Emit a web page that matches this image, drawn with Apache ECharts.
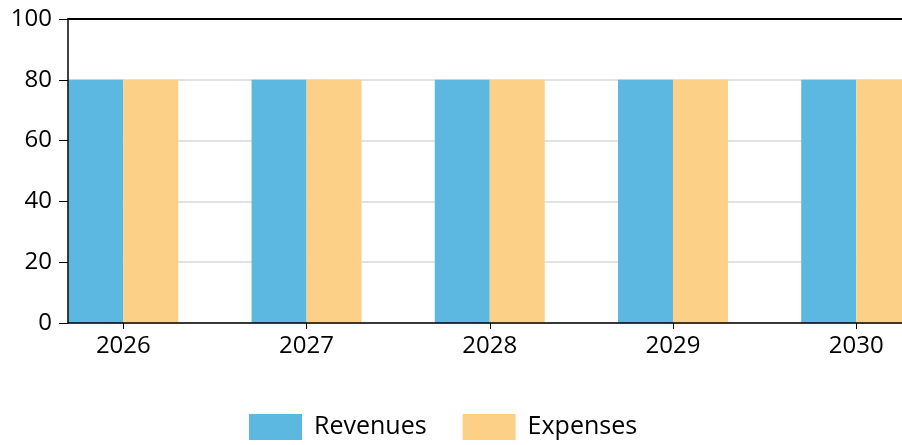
<!DOCTYPE html>
<html>
<head>
<meta charset="utf-8">
<script src="https://cdn.jsdelivr.net/npm/echarts@6/dist/echarts.min.js"></script>
<style>
html,body{margin:0;padding:0;background:#fff;}
#chart{width:902px;height:445px;}
</style>
</head>
<body>
<div id="chart"></div>
<script>
var years = [2026, 2027, 2028, 2029, 2030];
var revenues = [80, 80, 80, 80, 80];
var expenses = [80, 80, 80, 80, 80];
var yTicks = [0, 20, 40, 60, 80, 100];

var font = '"Open Sans", "Noto Sans", sans-serif';
var xMin = 2025.698, xMax = 2030.25;//first bar touches the y axis, last one runs off the page
var yMin = yTicks[0], yMax = yTicks[yTicks.length - 1];

function pairs(vals){
	var out = [];
	for (var i = 0; i < years.length; i++) out.push([years[i], vals[i]]);
	return out;
}

var myChart = echarts.init(document.getElementById('chart'));
var option = {
	animation: false,
	backgroundColor: '#fff',
	grid: { left: 68, right: 0, top: 19, bottom: 122 },
	legend: {
		left: 249, top: 414, padding: 0,
		itemWidth: 53, itemHeight: 26, itemGap: 36,
		icon: 'rect',
		textStyle: { fontFamily: font, fontSize: 25, color: '#000', padding: [0, 0, 0, 7] },
		data: ['Revenues', 'Expenses']
	},
	xAxis: [{
		type: 'value', min: xMin, max: xMax, z: 5,
		splitLine: { show: false },
		axisLine: { show: true, lineStyle: { color: '#000', width: 1.5 } },
		axisTick: { show: true, length: 6, customValues: years, lineStyle: { color: '#000' } },
		axisLabel: {
			customValues: years, margin: 11,
			fontFamily: font, fontSize: 24, color: '#000',
			formatter: function (v) { return String(v); }
		}
	}, {
		type: 'value', min: xMin, max: xMax, position: 'top', z: 5,
		splitLine: { show: false },
		axisLine: { show: true, onZero: false, lineStyle: { color: '#000', width: 2 } },
		axisTick: { show: false },
		axisLabel: { show: false }
	}],
	yAxis: [{
		//gridlines only, kept behind the bars
		type: 'value', min: yMin, max: yMax, interval: 20,
		axisLine: { show: false },
		axisTick: { show: false },
		axisLabel: { show: false },
		splitLine: { show: true, lineStyle: { color: '#d9d9d9', width: 1.5 } }
	}, {
		type: 'value', min: yMin, max: yMax, interval: 20, position: 'left', offset: 0, z: 5,
		axisLine: { show: true, onZero: false, lineStyle: { color: '#000', width: 1.5 } },
		axisTick: { show: true, length: 9, lineStyle: { color: '#000' } },
		axisLabel: { margin: 16, fontFamily: font, fontSize: 24, color: '#000' },
		splitLine: { show: false }
	}],
	series: [{
		name: 'Revenues', type: 'bar', barWidth: 55, barGap: '0%',
		itemStyle: { color: '#5db8e1' },
		data: pairs(revenues)
	}, {
		name: 'Expenses', type: 'bar', barWidth: 55, barGap: '0%',
		itemStyle: { color: '#fdd088' },
		data: pairs(expenses)
	}]
};
myChart.setOption(option);
</script>
</body>
</html>
